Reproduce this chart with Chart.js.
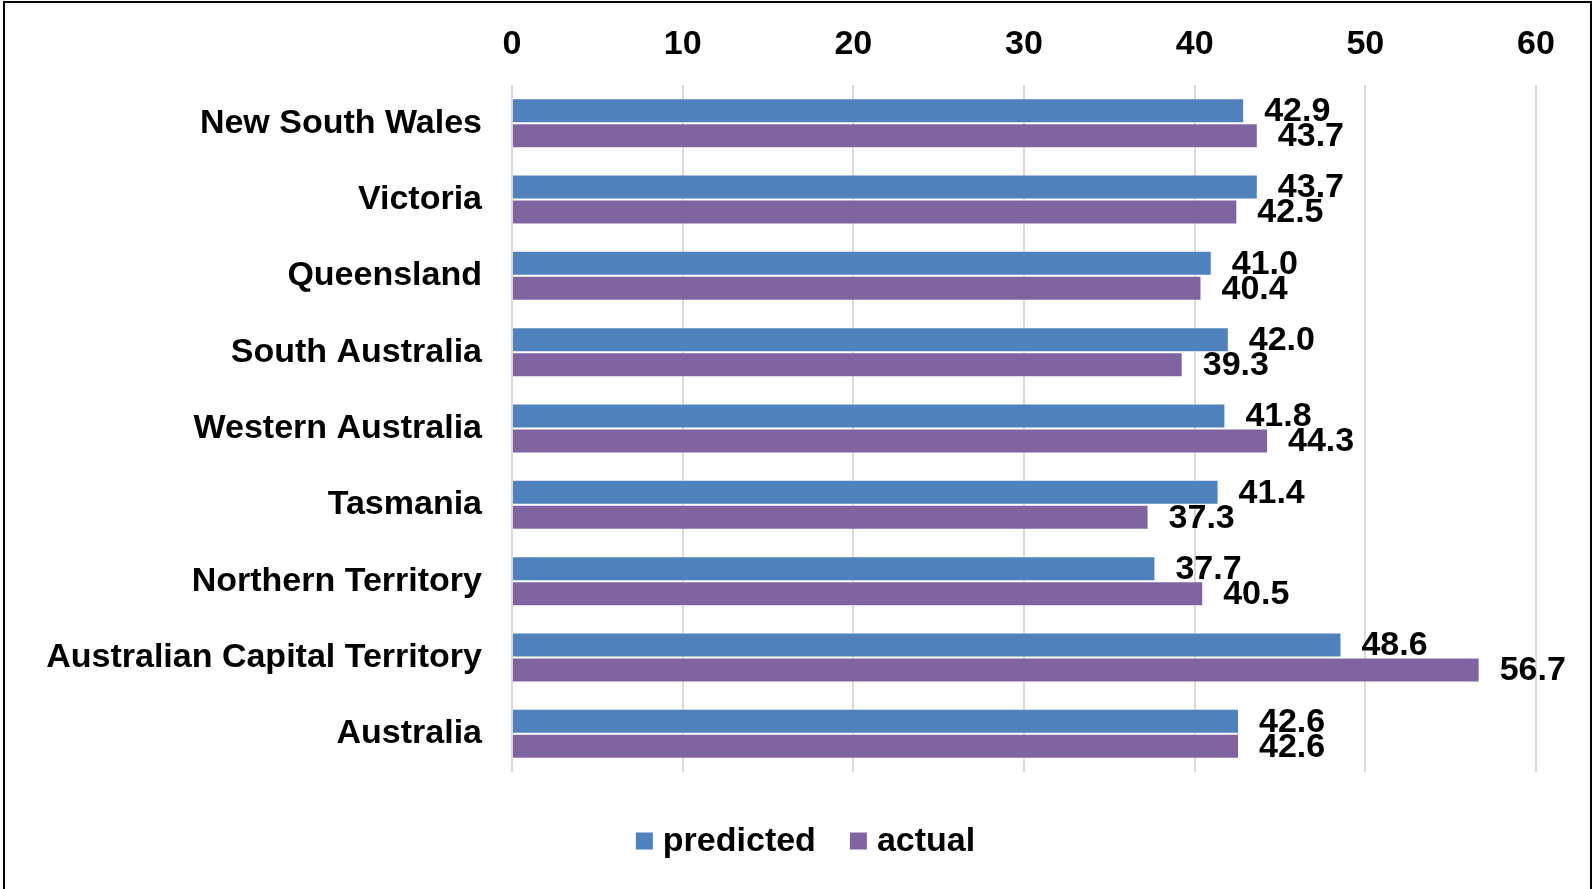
<!DOCTYPE html>
<html lang="en">
<head>
    <meta charset="UTF-8">
    <title>Predicted vs actual by state</title>
    <script src="https://cdn.jsdelivr.net/npm/chart.js"></script>
    <style>
        body {
            margin: 0;
            background: #fff;
            overflow: hidden;
        }
        .chart-wrap {
            position: absolute;
            left: 0;
            top: 0;
            width: 1593px;
            height: 889px;
        }
        /* thin black frame around the whole chart */
        .frame {
            position: absolute;
            left: 3px;
            top: 1px;
            width: 1589px;
            height: 905px;
            border: 2px solid #000;
            box-sizing: border-box;
            pointer-events: none;
        }
    </style>
</head>
<body>

<div class="chart-wrap">
    <canvas id="myChart"></canvas>
</div>
<div class="frame"></div>

<script>
    const categories = [
        'New South Wales',
        'Victoria',
        'Queensland',
        'South Australia',
        'Western Australia',
        'Tasmania',
        'Northern Territory',
        'Australian Capital Territory',
        'Australia'
    ];
    const predicted = [42.9, 43.7, 41.0, 42.0, 41.8, 41.4, 37.7, 48.6, 42.6];
    const actual = [43.7, 42.5, 40.4, 39.3, 44.3, 37.3, 40.5, 56.7, 42.6];
    const xTicks = [0, 10, 20, 30, 40, 50, 60];

    const FONT = 'Liberation Sans, Arial, sans-serif';
    const BOLD = 'bold 34px ' + FONT;

    // Value labels written just past the end of each bar
    const valueLabels = {
        id: 'valueLabels',
        afterDatasetsDraw(chart) {
            const ctx = chart.ctx;
            ctx.save();
            ctx.font = BOLD;
            ctx.fillStyle = '#000';
            ctx.textAlign = 'left';
            ctx.textBaseline = 'middle';
            chart.data.datasets.forEach((ds, i) => {
                const meta = chart.getDatasetMeta(i);
                meta.data.forEach((bar, j) => {
                    ctx.fillText(ds.data[j].toFixed(1), bar.x + 20, bar.y + 1);
                });
            });
            ctx.restore();
        }
    };

    // Compact legend under the plot: small square + name, tightly spaced
    const bottomLegend = {
        id: 'bottomLegend',
        afterDraw(chart) {
            const ctx = chart.ctx;
            const box = 17, gapText = 10, gapItem = 34;
            ctx.save();
            ctx.font = BOLD;
            ctx.textBaseline = 'middle';
            ctx.textAlign = 'left';
            const items = chart.data.datasets.map(ds => ({
                text: ds.label,
                color: ds.backgroundColor,
                w: ctx.measureText(ds.label).width
            }));
            let total = 0;
            items.forEach((it, i) => {
                total += box + gapText + it.w + (i ? gapItem : 0);
            });
            const cy = chart.chartArea.bottom + 69;
            let x = chart.width / 2 + 9 - total / 2;
            items.forEach(it => {
                ctx.fillStyle = it.color;
                ctx.fillRect(x, cy - box / 2, box, box);
                x += box + gapText;
                ctx.fillStyle = '#000';
                ctx.fillText(it.text, x, cy + 1);
                x += it.w + gapItem;
            });
            ctx.restore();
        }
    };

    const ctx = document.getElementById('myChart').getContext('2d');
    const myChart = new Chart(ctx, {
        type: 'bar',
        data: {
            labels: categories,
            datasets: [
                {
                    label: 'predicted',
                    data: predicted,
                    backgroundColor: '#4F81BD',
                    borderColor: 'rgba(255, 255, 255, 0.45)',
                    borderWidth: 1,
                    borderSkipped: 'start'
                },
                {
                    label: 'actual',
                    data: actual,
                    backgroundColor: '#8064A2',
                    borderColor: 'rgba(255, 255, 255, 0.45)',
                    borderWidth: 1,
                    borderSkipped: 'start'
                }
            ]
        },
        options: {
            indexAxis: 'y',
            responsive: true,
            maintainAspectRatio: false,
            animation: false,
            layout: {
                padding: { left: 0, right: 57, top: 0, bottom: 117 }
            },
            datasets: {
                bar: {
                    categoryPercentage: 0.655,
                    barPercentage: 1.0
                }
            },
            scales: {
                x: {
                    position: 'top',
                    min: 0,
                    max: 60,
                    afterBuildTicks: (scale) => {
                        scale.ticks = xTicks.map(v => ({ value: v }));
                    },
                    afterFit: (scale) => { scale.height = 85; },
                    grid: {
                        color: '#d9d9d9',
                        lineWidth: 2,
                        drawTicks: false
                    },
                    border: { display: false },
                    ticks: {
                        padding: 20,
                        color: '#000',
                        font: { family: FONT, size: 34, weight: 'bold' }
                    }
                },
                y: {
                    afterFit: (scale) => { scale.width = 512; },
                    grid: { display: false, drawTicks: false },
                    border: { display: false },
                    ticks: {
                        padding: 30,
                        color: '#000',
                        font: { family: FONT, size: 34, weight: 'bold' }
                    }
                }
            },
            plugins: {
                legend: { display: false },
                tooltip: { enabled: false }
            }
        },
        plugins: [valueLabels, bottomLegend]
    });
</script>

</body>
</html>
